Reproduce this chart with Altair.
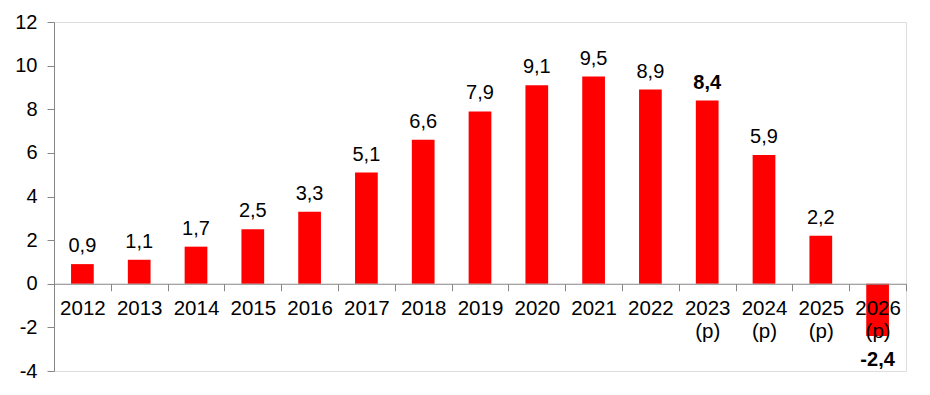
import altair as alt
import pandas as pd

years = ["2012", "2013", "2014", "2015", "2016", "2017", "2018", "2019",
         "2020", "2021", "2022", "2023", "2024", "2025", "2026"]
values = [0.9, 1.1, 1.7, 2.5, 3.3, 5.1, 6.6, 7.9, 9.1, 9.5, 8.9, 8.4, 5.9, 2.2, -2.4]
bold_years = ["2023", "2026"]
projected_years = ["2023", "2024", "2025", "2026"]
y_ticks = [-4, -2, 0, 2, 4, 6, 8, 10, 12]

df = pd.DataFrame({
    "year": years,
    "value": values,
    "label": [f"{v:.1f}".replace(".", ",") for v in values],
    "bold": [y in bold_years for y in years],
})

W, H = 852, 349
FONT = "Liberation Sans"
proj_list = "[" + ",".join(f"'{p}'" for p in projected_years) + "]"

x = alt.X(
    "year:N", sort=years, title=None,
    scale=alt.Scale(paddingInner=0, paddingOuter=0),
    axis=alt.Axis(
        orient="bottom", offset=-(H * 4 / 16), labelAngle=0, tickBand="extent",
        domainColor="#868686", tickColor="#868686", tickSize=7, labelFontSize=20.5,
        labelFont=FONT, labelColor="black", labelPadding=8, labelLineHeight=23,
        labelExpr=f"indexof({proj_list}, datum.value) >= 0 ? [datum.value, '(p)'] : datum.value",
        zindex=1, grid=False,
    ),
)
y = alt.Y(
    "value:Q", title=None,
    scale=alt.Scale(domain=[-4, 12], nice=False, zero=False),
    axis=alt.Axis(values=y_ticks, domainColor="#868686", tickColor="#868686", tickSize=7,
                  labelFontSize=20, labelFont=FONT, labelColor="black", labelPadding=10,
                  labelExpr="'' + datum.value", grid=False),
)

base = alt.Chart(df)
bars = base.mark_bar(color="#FF0000", width={"band": 0.4}).encode(x=x, y=y)

xe = alt.X("year:N", sort=years)


def labels(flt, weight, dy):
    return base.transform_filter(flt).mark_text(
        baseline="alphabetic", dy=dy, fontSize=20, font=FONT, color="black", fontWeight=weight
    ).encode(x=xe, y="value:Q", text="label:N")


layers = [
    bars,
    labels("datum.value >= 0 && !datum.bold", "normal", -12),
    labels("datum.value >= 0 && datum.bold", "bold", -12),
    labels("datum.value < 0 && !datum.bold", "normal", 30),
    labels("datum.value < 0 && datum.bold", "bold", 30),
]

chart = alt.layer(*layers).properties(
    width=W, height=H,
    autosize=alt.AutoSizeParams(type="none"),
    padding={"left": 46, "top": 14, "right": 10, "bottom": 16},
).configure_view(stroke=None).configure(background="white")

chart.save("out.html", embed_options={"renderer": "svg", "actions": False})
